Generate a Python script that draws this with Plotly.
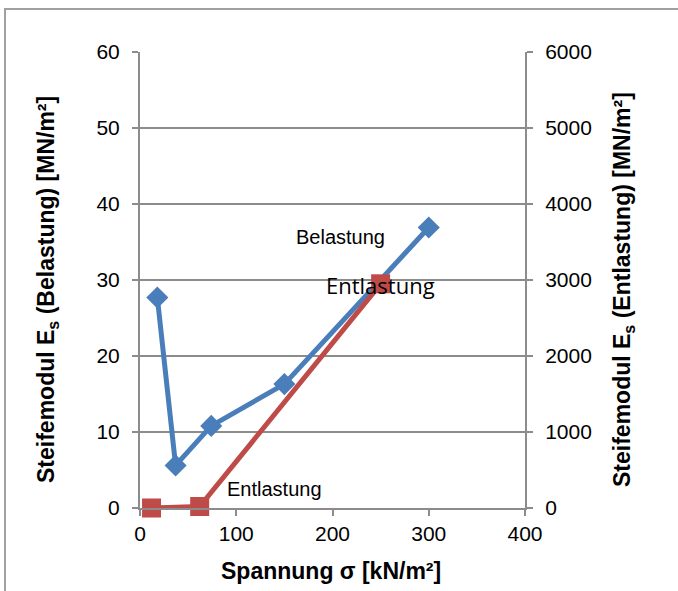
import plotly.graph_objects as go

# Data
bel_x = [18, 37, 74, 150, 300]
bel_y = [27.7, 5.6, 10.8, 16.3, 36.9]
ent_x = [12, 62, 250]
ent_y = [0, 20, 2950]

x_ticks = [0, 100, 200, 300, 400]
y_ticks = [0, 10, 20, 30, 40, 50, 60]
y2_ticks = [0, 1000, 2000, 3000, 4000, 5000, 6000]

BLUE = "#4a7ebb"
RED = "#be4b48"
GRID = "#8c8c8c"
FONT = "Liberation Sans, Arial, sans-serif"

W, H = 678, 591
L, R, T, B = 140, 525, 52, 508  # plot area pixels


def px(x):
    return (x - L) / (R - L)


def py(y):
    return (B - y) / (B - T)


fig = go.Figure()
fig.add_trace(go.Scatter(
    x=ent_x, y=ent_y, yaxis="y2", mode="lines+markers",
    line=dict(color=RED, width=5),
    marker=dict(symbol="square", size=19, color=RED),
    showlegend=False, cliponaxis=False,
))
fig.add_trace(go.Scatter(
    x=bel_x, y=bel_y, mode="lines+markers",
    line=dict(color=BLUE, width=5),
    marker=dict(symbol="diamond", size=17, color=BLUE),
    showlegend=False, cliponaxis=False,
))

axis_common = dict(
    showline=True, linecolor=GRID, linewidth=2,
    ticks="outside", ticklen=6, tickcolor=GRID, tickwidth=2,
    tickfont=dict(family=FONT, size=21, color="black"),
    zeroline=False,
)


def ann(text, x, y, size, family=FONT, bold=False, angle=0):
    return dict(text=text, xref="paper", yref="paper", x=px(x), y=py(y),
                xanchor="center", yanchor="middle", showarrow=False,
                textangle=angle,
                font=dict(family=family, size=size, color="black",
                          weight="bold" if bold else "normal"))


fig.update_layout(
    width=W, height=H,
    margin=dict(l=L, r=W - R, t=T, b=H - B, pad=0),
    paper_bgcolor="white", plot_bgcolor="white",
    xaxis=dict(range=[0, 400], tickvals=x_ticks, showgrid=False, **axis_common),
    yaxis=dict(range=[0, 60], tickvals=y_ticks, showgrid=True,
               gridcolor=GRID, gridwidth=2, ticklabelstandoff=8, **axis_common),
    yaxis2=dict(range=[0, 6000], tickvals=y2_ticks, overlaying="y", side="right",
                showgrid=False, ticklabelstandoff=8, **axis_common),
    shapes=[dict(type="rect", xref="paper", yref="paper",
                 x0=px(5), y0=py(700), x1=px(760), y1=py(9),
                 line=dict(color="#a0a0a0", width=2), layer="below")],
    annotations=[
        ann("Spannung σ [kN/m²]", 331, 571, 23, bold=True),
        ann("Steifemodul E<sub>s</sub> (Belastung) [MN/m²]", 47, 290, 23, bold=True, angle=-90),
        ann("Steifemodul E<sub>s</sub> (Entlastung) [MN/m²]", 623, 290, 23, bold=True, angle=-90),
        ann("Belastung", 340, 237, 20),
        ann("Entlastung", 380, 285, 22, family="Open Sans, sans-serif"),
        ann("Entlastung", 274, 489, 20),
    ],
)

fig.write_html("out.html")
